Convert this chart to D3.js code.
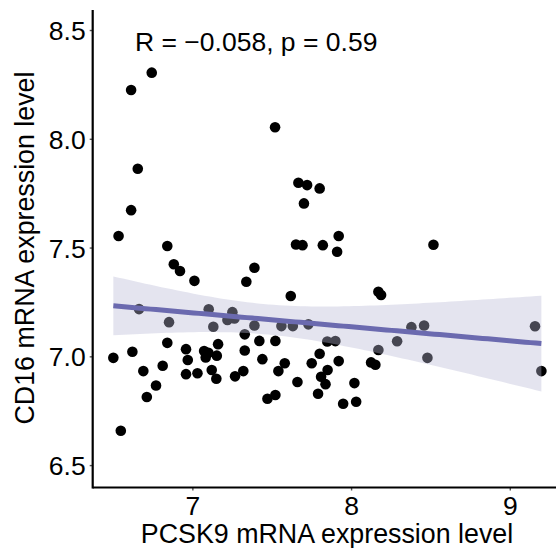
<!DOCTYPE html>
<html lang="en">
<head>
    <meta charset="UTF-8">
    <title>PCSK9 vs CD16</title>
    <script src="https://cdnjs.cloudflare.com/ajax/libs/d3/7.8.5/d3.min.js"></script>
    <style>
        body { margin: 0; background: #fff; }
        svg { display: block; font-family: "Liberation Sans", Arial, sans-serif; }
    </style>
</head>
<body>
    <svg width="556" height="548"></svg>
    <script>
        "use strict";

        // PCSK9 (x) and CD16 (y) expression
        const pcsk9 = [
            6.744, 6.614, 7.521, 6.656, 7.668, 7.723, 7.802, 7.703, 6.614, 6.535,
            7.653, 7.694, 7.822, 7.922, 7.912, 8.519, 6.842, 6.883, 6.922, 7.013,
            7.340, 7.391, 7.620, 8.172, 8.189, 6.664, 6.853, 7.103, 7.252, 7.221,
            7.265, 7.132, 7.391, 7.561, 7.633, 7.731, 7.330, 7.850, 7.901, 6.502,
            6.622, 6.691, 6.713, 6.771, 6.813, 6.842, 6.960, 6.971, 6.960, 7.032,
            7.074, 7.101, 7.084, 7.154, 7.162, 7.122, 7.151, 7.269, 7.321, 7.330,
            7.422, 7.441, 7.523, 7.542, 7.582, 7.473, 7.523, 7.662, 7.752, 7.802,
            7.811, 7.839, 7.852, 7.792, 6.549, 7.922, 7.950, 8.032, 8.021, 8.126,
            8.153, 8.172, 8.290, 8.380, 8.460, 8.481, 9.159, 9.199
        ];
        const cd16 = [
            8.304, 8.224, 8.053, 7.862, 7.798, 7.787, 7.772, 7.703, 7.672, 7.553,
            7.514, 7.511, 7.511, 7.553, 7.481, 7.513, 7.507, 7.423, 7.392, 7.347,
            7.343, 7.407, 7.277, 7.297, 7.282, 7.217, 7.157, 7.216, 7.203, 7.167,
            7.174, 7.136, 7.142, 7.139, 7.139, 7.147, 7.101, 7.068, 7.070, 6.993,
            7.021, 6.932, 6.813, 6.866, 6.957, 7.062, 7.033, 6.983, 6.918, 6.922,
            7.024, 7.016, 6.995, 7.003, 7.056, 6.937, 6.897, 6.908, 6.932, 7.027,
            7.071, 6.987, 7.071, 6.932, 6.968, 6.805, 6.822, 6.882, 6.968, 7.012,
            6.906, 6.872, 6.937, 6.828, 6.658, 6.978, 6.782, 6.791, 6.877, 6.972,
            6.961, 7.029, 7.069, 7.134, 7.142, 6.993, 7.138, 6.932
        ];
        const xTicks = [7, 8, 9];
        const yTicks = [6.5, 7.0, 7.5, 8.0, 8.5];
        const statLabel = "R = \u22120.058, p = 0.59";
        const xTitle = "PCSK9 mRNA expression level";
        const yTitle = "CD16 mRNA expression level";

        const svg = d3.select("svg");

        const x = d3.scaleLinear().domain([6.372, 9.334]).range([92.7, 562.8]);
        const y = d3.scaleLinear().domain([6.397, 8.592]).range([487.5, 10]);

        const points = pcsk9.map((v, i) => ({ x: v, y: cd16[i] }));

        // linear fit + 95% band (like geom_smooth(method = "lm"))
        const n = points.length;
        const mx = d3.mean(pcsk9), my = d3.mean(cd16);
        const sxx = d3.sum(pcsk9, v => (v - mx) ** 2);
        const sxy = d3.sum(points, d => (d.x - mx) * (d.y - my));
        const slope = sxy / sxx;
        const icpt = my - slope * mx;
        const sse = d3.sum(points, d => (d.y - icpt - slope * d.x) ** 2);
        const s = Math.sqrt(sse / (n - 2));
        const tq = 1.988;
        const [x0, x1] = d3.extent(pcsk9);
        const fit = d3.range(81).map(i => {
            const xv = x0 + (x1 - x0) * i / 80;
            const yv = icpt + slope * xv;
            const se = s * Math.sqrt(1 / n + (xv - mx) ** 2 / sxx);
            return { x: xv, y: yv, lo: yv - tq * se, hi: yv + tq * se };
        });

        // points
        svg.append("g")
            .selectAll("circle")
            .data(points)
            .enter()
            .append("circle")
            .attr("cx", d => x(d.x))
            .attr("cy", d => y(d.y))
            .attr("r", 5.3)
            .attr("fill", "#000");

        // band on top of points
        svg.append("path")
            .datum(fit)
            .attr("d", d3.area().x(d => x(d.x)).y0(d => y(d.lo)).y1(d => y(d.hi)))
            .attr("fill", "rgb(185,185,212)")
            .attr("fill-opacity", 0.38);

        svg.append("path")
            .datum(fit)
            .attr("d", d3.line().x(d => x(d.x)).y(d => y(d.y)))
            .attr("fill", "none")
            .attr("stroke", "#6b6aaf")
            .attr("stroke-width", 5);

        // axes
        const xAxis = svg.append("g")
            .attr("transform", "translate(0,487.5)")
            .call(d3.axisBottom(x).tickValues(xTicks).tickSize(3).tickPadding(6).tickFormat(d3.format("d")));
        const yAxis = svg.append("g")
            .attr("transform", "translate(92.7,0)")
            .call(d3.axisLeft(y).tickValues(yTicks).tickSize(3).tickPadding(4).tickFormat(d3.format(".1f")));

        for (const ax of [xAxis, yAxis]) {
            ax.select(".domain").remove();
            ax.selectAll(".tick line").attr("stroke", "#555").attr("stroke-width", 1.4);
            ax.selectAll(".tick text")
                .attr("fill", "#000")
                .style("font-size", "26.5px")
                .style("font-family", "'Liberation Sans', Arial, sans-serif");
        }
        yAxis.selectAll(".tick text").attr("dy", "0.36em");

        svg.append("line")
            .attr("x1", x.range()[0]).attr("x2", 556)
            .attr("y1", 487.5).attr("y2", 487.5)
            .attr("stroke", "#000").attr("stroke-width", 2.2);
        svg.append("line")
            .attr("x1", 92.7).attr("x2", 92.7)
            .attr("y1", y.range()[1]).attr("y2", 488.6)
            .attr("stroke", "#000").attr("stroke-width", 2.2);

        svg.append("text")
            .attr("x", 135).attr("y", 51)
            .style("font-size", "26.5px")
            .text(statLabel);

        svg.append("text")
            .attr("x", 327).attr("y", 543)
            .attr("text-anchor", "middle")
            .style("font-size", "26.8px")
            .text(xTitle);

        svg.append("text")
            .attr("transform", "translate(34,248) rotate(-90)")
            .attr("text-anchor", "middle")
            .style("font-size", "26.8px")
            .text(yTitle);
    </script>
</body>
</html>
